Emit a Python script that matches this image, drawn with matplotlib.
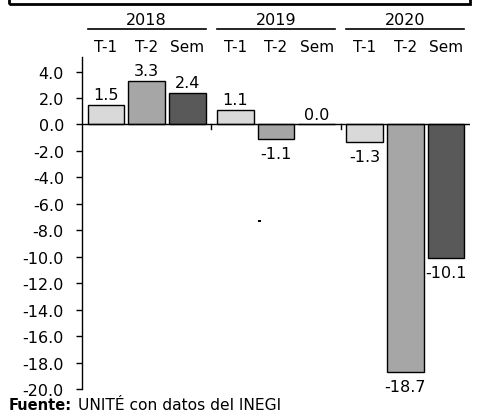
"""Variación porcentual por trimestre y semestre, 2018-2020."""
import matplotlib
matplotlib.use("Agg")
import matplotlib.pyplot as plt
from matplotlib.patches import Rectangle
import numpy as np

plt.rcParams["font.family"] = ["DejaVu Sans"]

years = ["2018", "2019", "2020"]
periods = ["T-1", "T-2", "Sem"]
values = [
    [1.5, 3.3, 2.4],
    [1.1, -1.1, 0.0],
    [-1.3, -18.7, -10.1],
]
colors = ["#D9D9D9", "#A6A6A6", "#595959"]
yticks = np.arange(-20, 5, 2)

W, H = 479, 414
fig = plt.figure(figsize=(W / 100, H / 100), dpi=100)
ax = fig.add_axes([82 / W, 1 - 390 / H, (470 - 82) / W, (390 - 58) / H])
xt = ax.get_xaxis_transform()

# -- bars, value labels and the two-row header --
gap = 0.17
width = 0.9
step = 3 + gap
for g, year in enumerate(years):
    for i, v in enumerate(values[g]):
        x = g * step + i
        ax.bar(x, v, width=width, color=colors[i], edgecolor="black", linewidth=1.0, zorder=2)
        if v >= 0:
            ax.annotate(f"{v:.1f}", (x, v), xytext=(0, 2), textcoords="offset points",
                        ha="center", va="bottom", fontsize=11.5)
        else:
            ax.annotate(f"{v:.1f}", (x, v), xytext=(0, -5), textcoords="offset points",
                        ha="center", va="top", fontsize=11.5)
        ax.text(x, 1.0 + 11 / 332, periods[i], transform=xt, ha="center",
                va="center", fontsize=11, clip_on=False)
    left = g * step - width / 2
    right = g * step + 2 + width / 2
    ax.plot([left, right], [1.0 + 28 / 332] * 2, color="black", lw=1.2,
            transform=xt, clip_on=False)
    ax.text((left + right) / 2, 1.0 + 30 / 332, year, transform=xt,
            ha="center", va="bottom", fontsize=11.5, clip_on=False)

xmin = -0.5 - gap / 2
xmax = 3 * step - 0.5 - gap / 2
ax.set_xlim(xmin, xmax)
ax.set_ylim(-20, 5.1)
ax.axhline(0, color="black", lw=1.0, zorder=3)
for g in range(1, 3):
    sep = g * step - 0.5 - gap / 2
    ax.plot([sep, sep], [0, -0.38], color="black", lw=1.0, zorder=3)

ax.set_xticks([])
ax.set_yticks(yticks)
ax.set_yticklabels([f"{t:.1f}" for t in yticks], fontsize=11.5)
ax.tick_params(axis="y", direction="out", length=4, width=1.0, pad=9)
for side in ["top", "right", "bottom"]:
    ax.spines[side].set_visible(False)
ax.spines["left"].set_linewidth(1.0)

# -- cropped title box at the top and stray mark --
fig.patches.append(Rectangle((9 / W, 1 - 5 / H), (470 - 9) / W, 20 / H, transform=fig.transFigure,
                             fill=False, edgecolor="black", linewidth=2.0))
fig.patches.append(Rectangle((258 / W, 1 - 223 / H), 3 / W, 2 / H, transform=fig.transFigure,
                             facecolor="black", edgecolor="none"))

fig.text(9 / W, 1 - 406 / H, "Fuente:", fontsize=10.5, fontweight="bold", va="center", ha="left")
fig.text(78 / W, 1 - 406 / H, "UNITÉ con datos del INEGI", fontsize=11.2, va="center", ha="left")

fig.savefig("out.png", dpi=100)
